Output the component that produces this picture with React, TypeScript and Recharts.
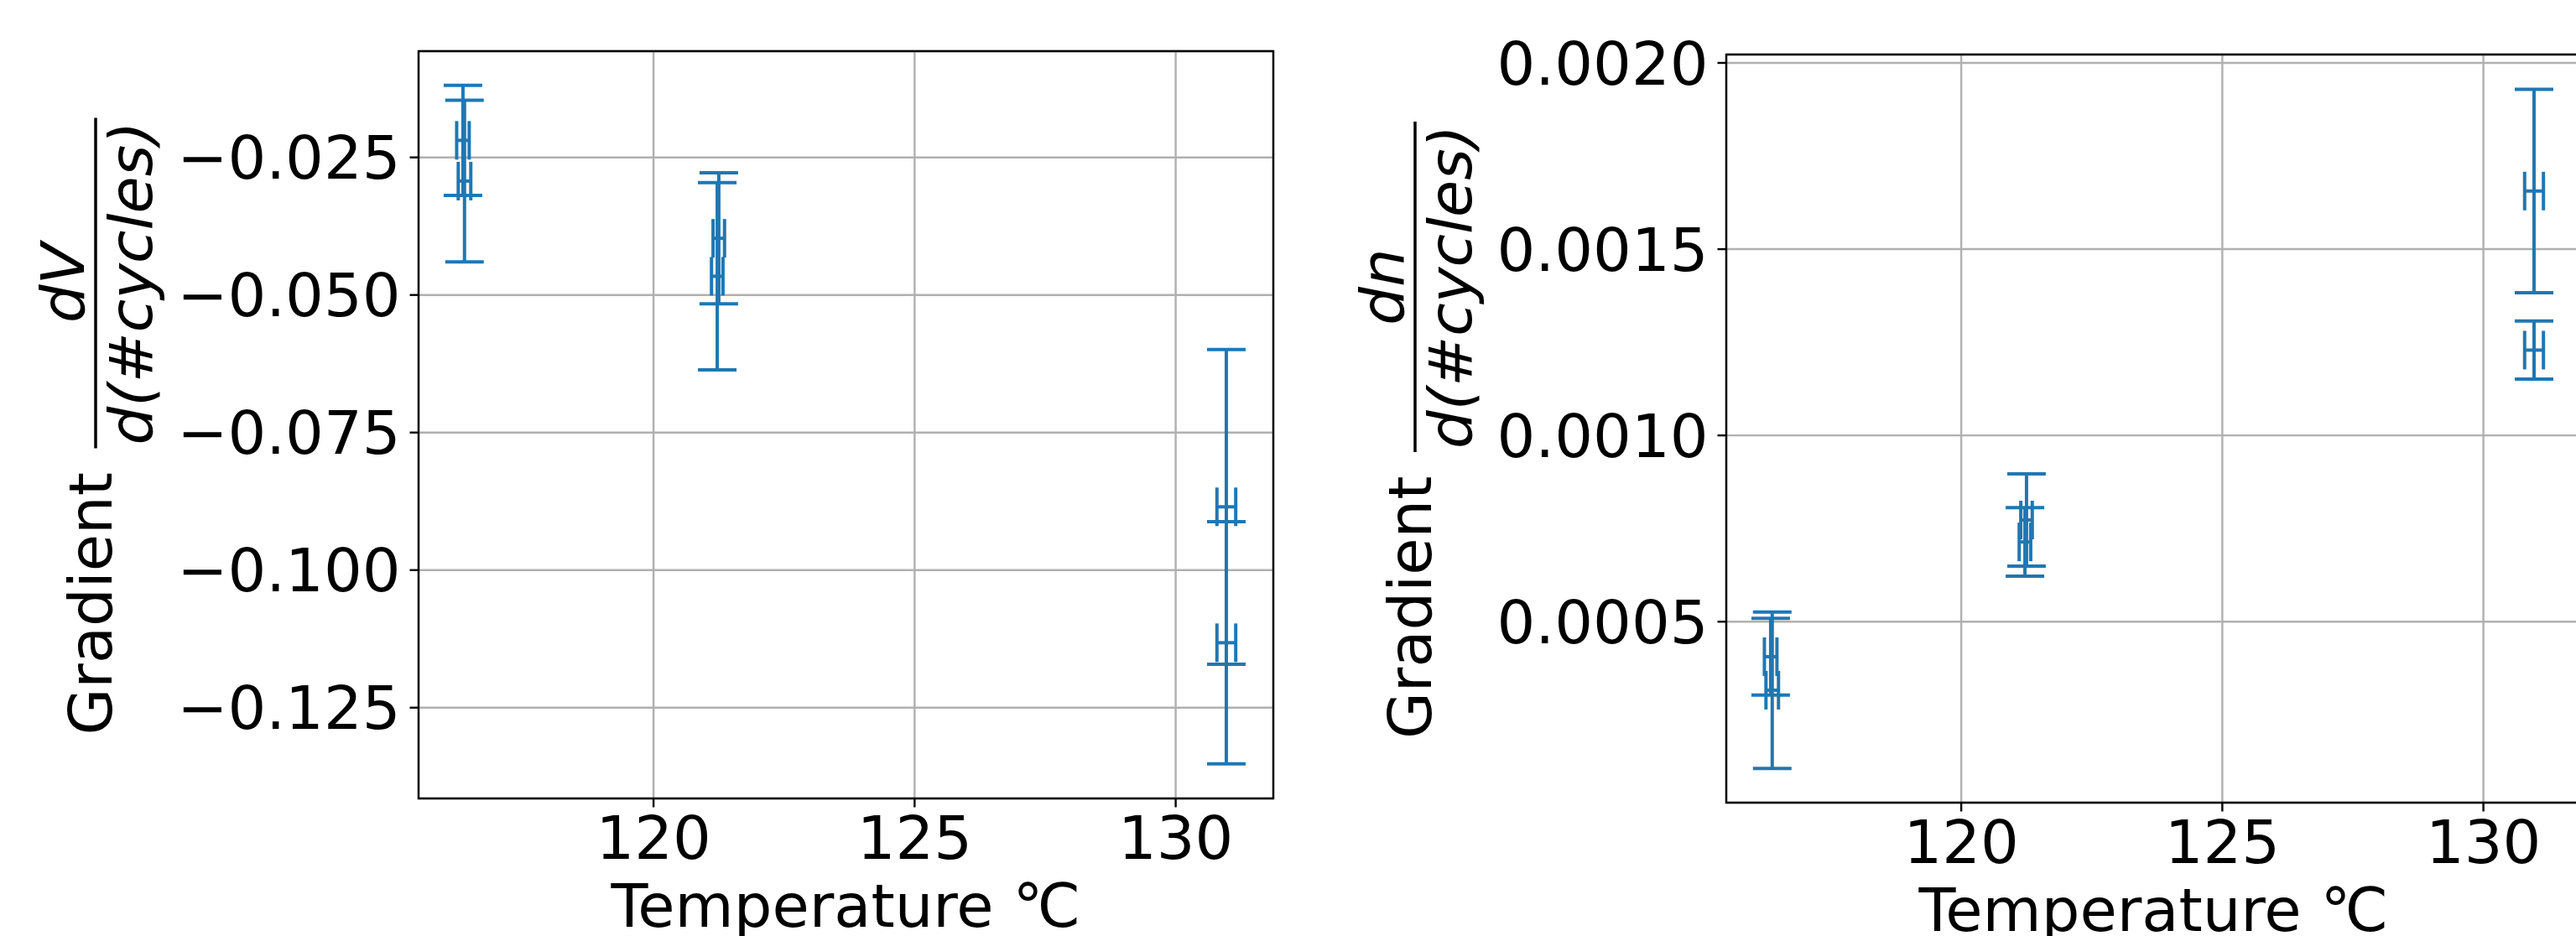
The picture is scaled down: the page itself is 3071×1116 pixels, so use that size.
import React from "react";
import {
  ScatterChart, Scatter, XAxis, YAxis, CartesianGrid, ErrorBar, ReferenceArea,
} from "recharts";

// temperaturas (°C) e incertezas, comuns aos dois gráficos
const temperaturas = [116.35, 116.38, 121.25, 121.22, 130.97, 130.97];
const erroTemperatura = [0.12, 0.12, 0.11, 0.11, 0.18, 0.18];

// gradiente dV/d(#cycles)
const gradienteV = [-0.0219, -0.0293, -0.0397, -0.0466, -0.0885, -0.1132];
const erroGradienteV = [0.0100, 0.0147, 0.0119, 0.0170, 0.0286, 0.0220];

// gradiente dn/d(#cycles)
const gradienteN = [0.000406, 0.000316, 0.000773, 0.000714, 0.001656, 0.001229];
const erroGradienteN = [0.000103, 0.00021, 0.000124, 0.000092, 0.000273, 0.000078];

const xTicks = [120, 125, 130];
const yTicksV = [-0.125, -0.1, -0.075, -0.05, -0.025];
const yTicksN = [0.0005, 0.001, 0.0015, 0.002];
const xDomain: [number, number] = [115.5, 131.87];
const yDomainV: [number, number] = [-0.1415, -0.00569];
const yDomainN: [number, number] = [0.0000142, 0.0020225];

const AZUL = "#1f77b4";
const FONTE = "DejaVu Sans";
const FS = 72;

const montar = (vals: number[], errs: number[]) =>
  temperaturas.map((t, i) => ({ t, tErr: erroTemperatura[i], v: vals[i], vErr: errs[i] }));

const fmt = (casas: number) => (v: number) => v.toFixed(casas).replace("-", "\u2212");

function RotuloY(props: any) {
  const { viewBox, num, barra } = props;
  const spine = viewBox.x + viewBox.width;
  const cy = viewBox.y + viewBox.height / 2;
  const b = -barra;
  return (
    <g transform={`translate(${spine}, ${cy}) rotate(-90)`} fontFamily={FONTE} fontSize={FS} fill="#000">
      <text x={-370} y={b + 19}>Gradient</text>
      <line x1={-28} x2={366} y1={b} y2={b} stroke="#000" strokeWidth={3.5} />
      <text x={169} y={b - 14} textAnchor="middle" fontStyle="italic">{num}</text>
      <text x={169} y={b + 67} textAnchor="middle" fontStyle="italic">d(#cycles)</text>
    </g>
  );
}

function RotuloX(props: any) {
  const { viewBox } = props;
  return (
    <text x={viewBox.x + viewBox.width / 2} y={viewBox.y + 153} textAnchor="middle"
      fontFamily={FONTE} fontSize={FS} fill="#000">
      Temperature ℃
    </text>
  );
}

interface PainelProps {
  dados: { t: number; tErr: number; v: number; vErr: number }[];
  yTicks: number[];
  yDomain: [number, number];
  casas: number;
  num: string;
  barra: number;
  top: number;
  bottom: number;
}

function Painel({ dados, yTicks, yDomain, casas, num, barra, top, bottom }: PainelProps) {
  const tick = { fontSize: FS, fill: "#000", fontFamily: FONTE };
  return (
    <ScatterChart width={1541} height={1116} margin={{ top, right: 22, bottom: 0, left: 0 }}>
      <CartesianGrid stroke="#b0b0b0" strokeWidth={2.4} />
      <XAxis
        type="number" dataKey="t" domain={xDomain} ticks={xTicks} interval={0}
        allowDataOverflow height={1116 - bottom} tick={tick} tickSize={10.5} tickMargin={10}
        axisLine={false} tickLine={{ stroke: "#000", strokeWidth: 2.4 }}
        label={<RotuloX />}
      />
      <YAxis
        type="number" dataKey="v" domain={yDomain} ticks={yTicks} interval={0}
        allowDataOverflow width={500} tick={tick} tickSize={10.5} tickMargin={11}
        tickFormatter={fmt(casas)} axisLine={false} tickLine={{ stroke: "#000", strokeWidth: 2.4 }}
        label={<RotuloY num={num} barra={barra} />}
      />
      <ReferenceArea x1={xDomain[0]} x2={xDomain[1]} y1={yDomain[0]} y2={yDomain[1]}
        fill="none" fillOpacity={0} stroke="#000" strokeWidth={2.4} ifOverflow="visible" />
      <Scatter data={dados} isAnimationActive={false} shape={() => <g />}>
        <ErrorBar dataKey="vErr" direction="y" width={23} strokeWidth={4} stroke={AZUL} isAnimationActive={false} />
        <ErrorBar dataKey="tErr" direction="x" width={23} strokeWidth={4} stroke={AZUL} isAnimationActive={false} />
      </Scatter>
    </ScatterChart>
  );
}

export default function App() {
  return (
    <div style={{ position: "absolute", left: 0, top: 0, width: 3071, height: 1116, overflow: "hidden", background: "#fff", fontFamily: FONTE }}>
      <div style={{ position: "absolute", left: -1, top: 0 }}>
        <Painel dados={montar(gradienteV, erroGradienteV)} yTicks={yTicksV} yDomain={yDomainV}
          casas={3} num="dV" barra={385} top={61} bottom={952} />
      </div>
      <div style={{ position: "absolute", left: 1558, top: 0 }}>
        <Painel dados={montar(gradienteN, erroGradienteN)} yTicks={yTicksN} yDomain={yDomainN}
          casas={4} num="dn" barra={371} top={65} bottom={957} />
      </div>
    </div>
  );
}
